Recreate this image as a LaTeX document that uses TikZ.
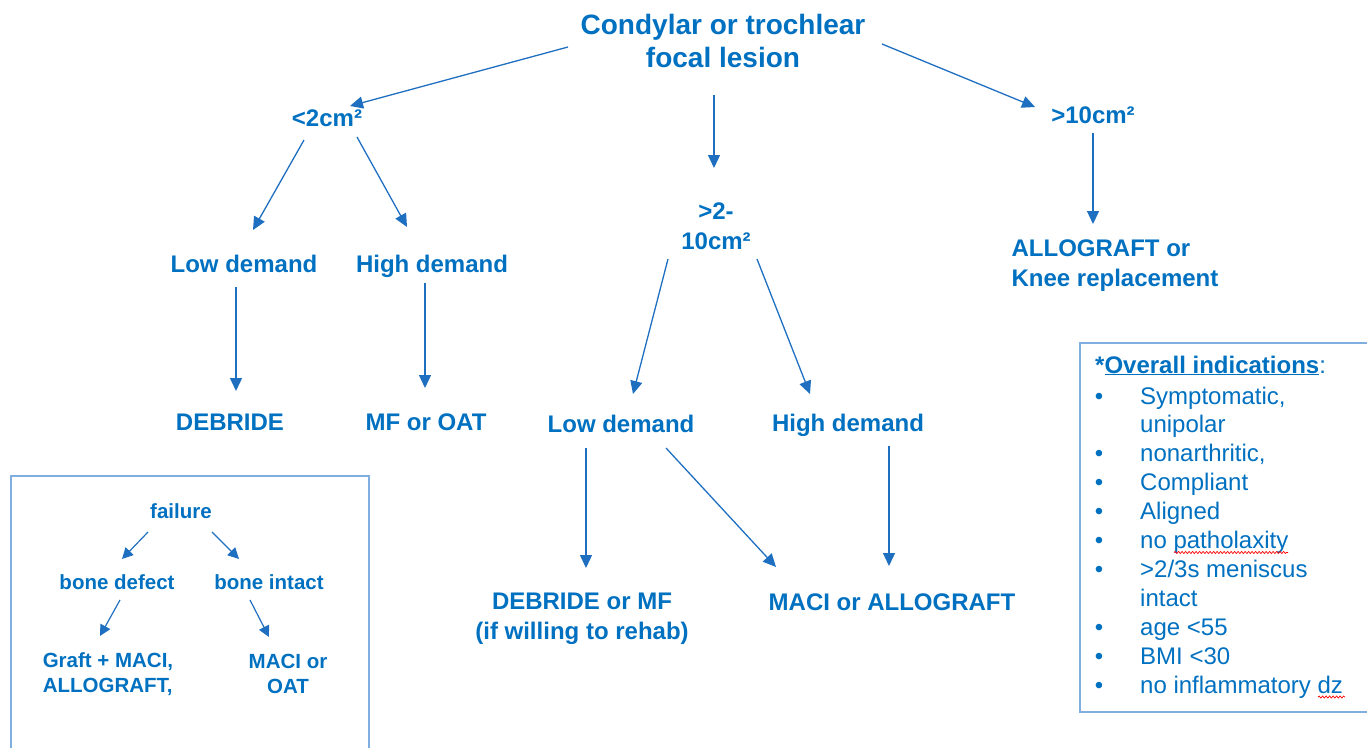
\documentclass[tikz,border=0pt]{standalone}
\usepackage{fontspec}
\setmainfont{Liberation Sans}
\usetikzlibrary{arrows.meta,calc,decorations.pathmorphing}
\definecolor{tblue}{HTML}{0070C0}
\definecolor{ablue}{HTML}{1F6FC1}
\definecolor{bblue}{HTML}{7FAEDF}
\begin{document}
\begin{tikzpicture}[x=1pt,y=-1pt,
  lbl/.style={text=tblue,font=\bfseries\fontsize{24}{30}\selectfont,align=center,inner sep=0pt},
  ttl/.style={lbl,font=\bfseries\fontsize{28}{33}\selectfont},
  small/.style={lbl,font=\bfseries\fontsize{20.5}{25}\selectfont},
  item/.style={text=tblue,font=\fontsize{24}{29}\selectfont,inner sep=0pt,anchor=base west},
  bul/.style={text=tblue,font=\fontsize{24}{29}\selectfont,inner sep=0pt,anchor=base},
  arr/.style={draw=ablue,line width=1.3pt,-{Triangle[length=13pt,width=12pt]}},
  sarr/.style={draw=ablue,line width=1.2pt,-{Triangle[length=11pt,width=11pt]}},
  frame/.style={draw=bblue,line width=2pt},
  spell/.style={draw=red,line width=0.7pt,decorate,decoration={snake,amplitude=1pt,segment length=3.5pt}}]
\useasboundingbox (0,0) rectangle (1367,747);
\clip (0,0) rectangle (1367,747);

% main tree
\node[ttl] (title) at (723,41) {Condylar or trochlear\\focal lesion};
\node[lbl] (lt2) at (327,118) {<2cm²};
\node[lbl] (gt10) at (1093,115) {>10cm²};
\node[lbl] (mid) at (716,226) {>2-\\10cm²};
\node[lbl] (low1) at (244,264) {Low demand};
\node[lbl] (high1) at (432,266) {High demand};
\node[lbl] (deb) at (230,422) {DEBRIDE};
\node[lbl] (mfoat) at (426,422) {MF or OAT};
\node[lbl,align=left] (allo) at (1115,266) {ALLOGRAFT or\\Knee replacement};
\node[lbl] (low2) at (621,424) {Low demand};
\node[lbl] (high2) at (848,425) {High demand};
\node[lbl] (debmf) at (582,619) {DEBRIDE or MF\\(if willing to rehab)};
\node[lbl] (maci) at (892,602) {MACI or ALLOGRAFT};

\draw[arr] ($(title)+(-155,6)$) -- ($(lt2)+(23,-12)$);
\draw[arr] ($(title)+(159,3)$) -- ($(gt10)+(-58,-8)$);
\draw[arr] ($(title)+(-9,54)$) -- ($(mid)+(-2,-58)$);
\draw[arr] ($(lt2)+(-23,22)$) -- ($(low1)+(9,-34)$);
\draw[arr] ($(lt2)+(30,19)$) -- ($(high1)+(-25,-39)$);
\draw[arr] ($(low1)+(-8,23)$) -- ($(deb)+(6,-31)$);
\draw[arr] ($(high1)+(-7,17)$) -- ($(mfoat)+(-1,-34)$);
\draw[arr] ($(gt10)+(0,18)$) -- ($(allo)+(-22,-42)$);
\draw[arr] ($(mid)+(-48,33)$) -- ($(low2)+(12,-30)$);
\draw[arr] ($(mid)+(41,33)$) -- ($(high2)+(-38,-31)$);
\draw[arr] ($(low2)+(-35,24)$) -- ($(debmf)+(4,-51)$);
\draw[arr] ($(low2)+(45,24)$) -- ($(maci)+(-116,-35)$);
\draw[arr] ($(high2)+(41,21)$) -- ($(maci)+(-3,-36)$);

% failure box
\draw[frame] (11,476) rectangle (369,770);
\node[small] (fail) at (181,511) {failure};
\node[small] (bdef) at (117,582) {bone defect};
\node[small] (bint) at (269,582) {bone intact};
\node[small,align=left] (graft) at (108,674) {Graft + MACI,\\ALLOGRAFT,};
\node[small] (macioat) at (288,674) {MACI or\\OAT};
\draw[sarr] ($(fail)+(-33,21)$) -- ($(bdef)+(5,-23)$);
\draw[sarr] ($(fail)+(31,21)$) -- ($(bint)+(-30,-23)$);
\draw[sarr] ($(bdef)+(3,18)$) -- ($(graft)+(-8,-38)$);
\draw[sarr] ($(bint)+(-19,18)$) -- ($(macioat)+(-19,-37)$);

% indications box
\draw[frame] (1080,343) rectangle (1390,712);
\node[item] (head) at (1095,373) {\textbf{*\underline{Overall indications}}:};
\node[bul] (b0) at (1099,404) {•};
\node[item] (i0) at (1140,404) {Symptomatic,};
\node[item] (i1) at (1140,432.9) {unipolar};
\node[bul] (b2) at (1099,461.8) {•};
\node[item] (i2) at (1140,461.8) {nonarthritic,};
\node[bul] (b3) at (1099,490.7) {•};
\node[item] (i3) at (1140,490.7) {Compliant};
\node[bul] (b4) at (1099,519.6) {•};
\node[item] (i4) at (1140,519.6) {Aligned};
\node[bul] (b5) at (1099,548.5) {•};
\node[item] (i5) at (1140,548.5) {no patholaxity};
\node[bul] (b6) at (1099,577.4) {•};
\node[item] (i6) at (1140,577.4) {>2/3s meniscus};
\node[item] (i7) at (1140,606.3) {intact};
\node[bul] (b8) at (1099,635.2) {•};
\node[item] (i8) at (1140,635.2) {age <55};
\node[bul] (b9) at (1099,664.1) {•};
\node[item] (i9) at (1140,664.1) {BMI <30};
\node[bul] (b10) at (1099,693) {•};
\node[item] (i10) at (1140,693) {no inflammatory dz};
\draw[spell] ($(i5.base west)+(34,4)$) -- ($(i5.base west)+(148,4)$);
\draw[spell] ($(i10.base west)+(178,4)$) -- ($(i10.base west)+(205,4)$);
\end{tikzpicture}
\end{document}
